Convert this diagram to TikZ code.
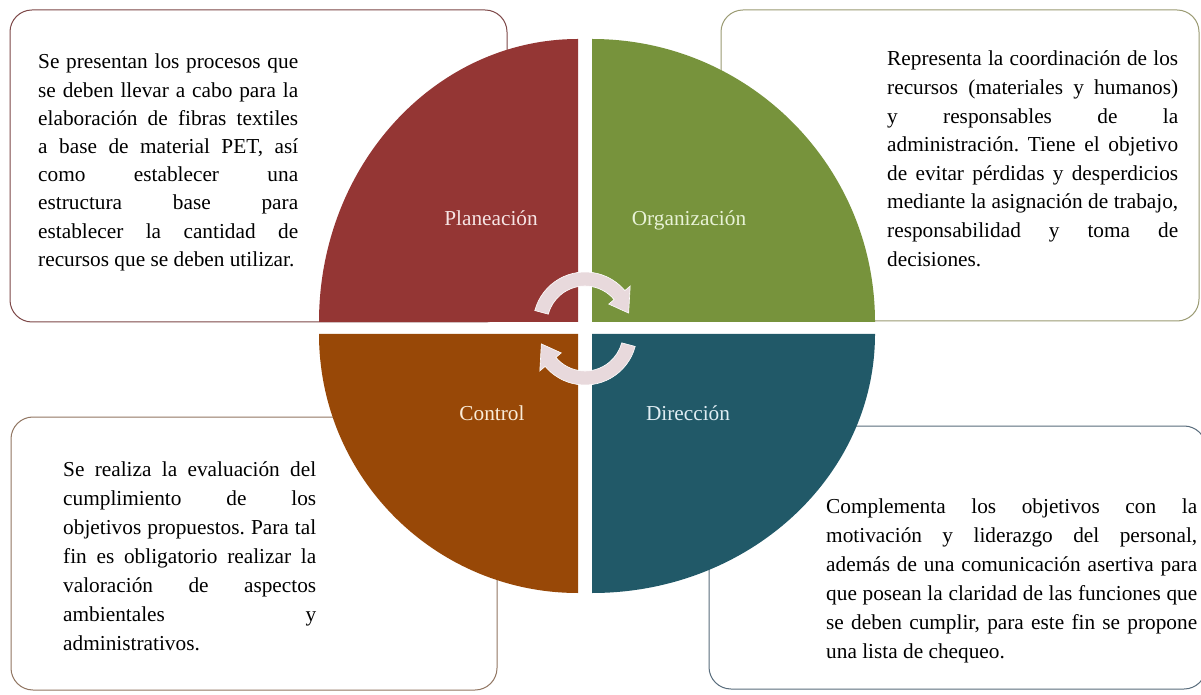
\documentclass[tikz,border=0pt]{standalone}
\usepackage{fontspec}
\setmainfont{Liberation Serif}
\definecolor{cRed}{RGB}{148,54,52}
\definecolor{cGreen}{RGB}{119,147,60}
\definecolor{cOrange}{RGB}{152,72,7}
\definecolor{cBlue}{RGB}{33,89,104}
\definecolor{arrowpink}{RGB}{232,217,220}
\definecolor{bOne}{RGB}{125,72,72}
\definecolor{bTwo}{RGB}{155,155,115}
\definecolor{bThree}{RGB}{145,118,98}
\definecolor{bFour}{RGB}{88,108,124}
\definecolor{lRed}{RGB}{246,228,228}
\definecolor{lGreen}{RGB}{232,242,214}
\definecolor{lOrange}{RGB}{250,236,216}
\definecolor{lBlue}{RGB}{222,236,242}
\newcommand{\jl}[1]{\makebox[\linewidth][s]{#1}\\}
\newcommand{\txtblock}[3]{\parbox[t]{#1}{\frenchspacing\fontsize{21.3}{#2}\selectfont #3}}
\begin{document}
\begin{tikzpicture}[x=1pt,y=1pt,
  infobox/.style={rounded corners=22pt, line width=1pt, fill=white},
  lbl/.style={font=\fontsize{21.3}{24}\selectfont, anchor=base, inner sep=0pt},
  body/.style={anchor=base west, inner sep=0pt, text=black},
  cyc/.style={fill=arrowpink, draw=white, line width=0.6pt}]
\useasboundingbox (0,0) rectangle (1201,694);
\fill[white] (0,0) rectangle (1201,694);
% text boxes
\draw[infobox, draw=bOne]   (10,684) rectangle (507,372);
\draw[infobox, draw=bTwo]   (721,684) rectangle (1199,373);
\draw[infobox, draw=bThree] (11,277) rectangle (497,4);
\draw[infobox, draw=bFour]  (709,268) rectangle (1206,5);
% quadrants
\fill[cRed] (578,372) -- (319,372) arc[start angle=180, end angle=90, x radius=259, y radius=283] -- cycle;
\fill[cGreen] (592,372) -- (592,655) arc[start angle=90, end angle=0, x radius=283, y radius=283] -- cycle;
\fill[cOrange] (578,360) -- (578,101) arc[start angle=270, end angle=180, x radius=259, y radius=259] -- cycle;
\fill[cBlue] (592,360) -- (875,360) arc[start angle=0, end angle=-90, x radius=283, y radius=259] -- cycle;
% cycle arrows
\begin{scope}[shift={(585,370)}]
\filldraw[cyc] (165:52) arc[start angle=165, end angle=40, radius=52] -- (40:59) -- (14:45) -- (40:31) -- (40:38) arc[start angle=40, end angle=165, radius=38] -- cycle;
\end{scope}
\begin{scope}[shift={(585,361)}]
\filldraw[cyc] (-15:52) arc[start angle=-15, end angle=-140, radius=52] -- (-140:59) -- (-166:45) -- (-140:31) -- (-140:38) arc[start angle=-140, end angle=-15, radius=38] -- cycle;
\end{scope}
% labels
\node[lbl, text=lRed]    (planeacion)   at (491,468) {Planeación};
\node[lbl, text=lGreen]  (organizacion) at (689,468) {Organización};
\node[lbl, text=lOrange] (control)      at (492,273) {Control};
\node[lbl, text=lBlue]   (direccion)    at (688,273) {Dirección};
% texts
\node[body] (t1) at (38,625) {\txtblock{260pt}{28.2pt}{%
\jl{Se presentan los procesos que}
\jl{se deben llevar a cabo para la}
\jl{elaboración de fibras textiles}
\jl{a base de material PET, así}
\jl{como establecer una}
\jl{estructura base para}
\jl{establecer la cantidad de}
recursos que se deben utilizar.}};
\node[body] (t2) at (887,628) {\txtblock{291pt}{28.6pt}{%
\jl{Representa la coordinación de los}
\jl{recursos (materiales y humanos)}
\jl{y responsables de la}
\jl{administración. Tiene el objetivo}
\jl{de evitar pérdidas y desperdicios}
\jl{mediante la asignación de trabajo,}
\jl{responsabilidad y toma de}
decisiones.}};
\node[body] (t3) at (63,218) {\txtblock{253pt}{29pt}{%
\jl{Se realiza la evaluación del}
\jl{cumplimiento de los}
\jl{objetivos propuestos. Para tal}
\jl{fin es obligatorio realizar la}
\jl{valoración de aspectos}
\jl{ambientales y}
administrativos.}};
\node[body] (t4) at (826,181) {\txtblock{371pt}{29pt}{%
\jl{Complementa los objetivos con la}
\jl{motivación y liderazgo del personal,}
\jl{además de una comunicación asertiva para}
\jl{que posean la claridad de las funciones que}
\jl{se deben cumplir, para este fin se propone}
una lista de chequeo.}};
\end{tikzpicture}
\end{document}
